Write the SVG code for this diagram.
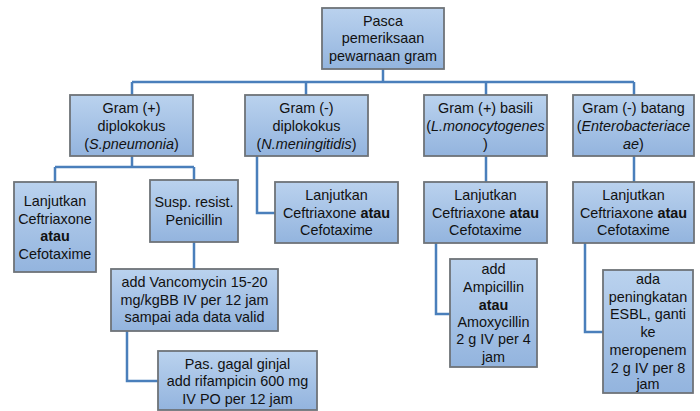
<svg xmlns="http://www.w3.org/2000/svg" width="700" height="411" viewBox="0 0 700 411">
<style>
.b{fill:url(#g);stroke:#6e7378;stroke-width:1.8}
text{font-family:"Liberation Sans",Arial,sans-serif;font-size:14.4px;fill:#111;text-anchor:middle}
.bo{font-weight:bold}
.it{font-style:italic}
.c{fill:none;stroke:#4a7fbb;stroke-width:2.5}
</style>
<defs>
<linearGradient id="g" x1="0" y1="0" x2="0" y2="1">
<stop offset="0" stop-color="#bad2ee"/>
<stop offset="1" stop-color="#93b4de"/>
</linearGradient>
</defs>
<rect width="700" height="411" fill="#fff"/>
<g id="connectors">
<path class="c" d="M383 69V82M132 82H634M132 82V95M306 82V95M486 82V95M634 82V95"/>
<path class="c" d="M132 156V167M55 167H194M55 167V182M194 167V180M194 242V269"/>
<path class="c" d="M127 331V381H158"/>
<path class="c" d="M257 156V213H275"/>
<path class="c" d="M486 156V182M436 243V314H450"/>
<path class="c" d="M634 156V182M585 243V332H603"/>
</g>
<g id="root"><rect class="b" x="322" y="8" width="122" height="61"/>
<text x="383" y="26">Pasca</text><text x="383" y="43">pemeriksaan</text><text x="383" y="61">pewarnaan gram</text></g>
<g id="gpos"><rect class="b" x="70" y="95" width="123" height="61"/>
<text x="131.5" y="113">Gram (+)</text><text x="131.5" y="131">diplokokus</text><text x="131.5" y="149">(<tspan class="it">S.pneumonia</tspan>)</text></g>
<g id="gneg"><rect class="b" x="245" y="95" width="123" height="61"/>
<text x="306.5" y="113">Gram (-)</text><text x="306.5" y="131">diplokokus</text><text x="306.5" y="149">(<tspan class="it">N.meningitidis</tspan>)</text></g>
<g id="gbas"><rect class="b" x="424" y="95" width="123" height="61"/>
<text x="485.5" y="113">Gram (+) basili</text><text x="485.5" y="131">(<tspan class="it">L.monocytogenes</tspan></text><text x="485.5" y="149">)</text></g>
<g id="gbat"><rect class="b" x="573" y="95" width="121" height="61"/>
<text x="633.5" y="113">Gram (-) batang</text><text x="633.5" y="131">(<tspan class="it">Enterobacteriace</tspan></text><text x="633.5" y="149"><tspan class="it">ae</tspan>)</text></g>
<g id="a1"><rect class="b" x="14" y="182" width="82" height="90"/>
<text x="55" y="206">Lanjutkan</text><text x="55" y="224">Ceftriaxone</text><text x="55" y="241" class="bo">atau</text><text x="55" y="259">Cefotaxime</text></g>
<g id="a2"><rect class="b" x="150" y="180" width="88" height="62"/>
<text x="194" y="207">Susp. resist.</text><text x="194" y="225">Penicillin</text></g>
<g id="a3"><rect class="b" x="111" y="269" width="167" height="62"/>
<text x="194.5" y="287">add Vancomycin 15-20</text><text x="194.5" y="305">mg/kgBB IV per 12 jam</text><text x="194.5" y="322">sampai ada data valid</text></g>
<g id="a4"><rect class="b" x="158" y="351" width="159" height="59"/>
<text x="237.5" y="369">Pas. gagal ginjal</text><text x="237.5" y="386">add rifampicin 600 mg</text><text x="237.5" y="404">IV PO per 12 jam</text></g>
<g id="b1"><rect class="b" x="275" y="182" width="123" height="61"/>
<text x="336.5" y="200">Lanjutkan</text><text x="336.5" y="218">Ceftriaxone <tspan class="bo">atau</tspan></text><text x="336.5" y="235">Cefotaxime</text></g>
<g id="c1"><rect class="b" x="424" y="182" width="123" height="61"/>
<text x="485.5" y="200">Lanjutkan</text><text x="485.5" y="218">Ceftriaxone <tspan class="bo">atau</tspan></text><text x="485.5" y="235">Cefotaxime</text></g>
<g id="c2"><rect class="b" x="450" y="259" width="87" height="108"/>
<text x="493.5" y="274">add</text><text x="493.5" y="292">Ampicillin</text><text x="493.5" y="310" class="bo">atau</text><text x="493.5" y="327">Amoxycillin</text><text x="493.5" y="344">2 g IV per 4</text><text x="493.5" y="362">jam</text></g>
<g id="d1"><rect class="b" x="573" y="182" width="121" height="61"/>
<text x="633.5" y="200">Lanjutkan</text><text x="633.5" y="218">Ceftriaxone <tspan class="bo">atau</tspan></text><text x="633.5" y="235">Cefotaxime</text></g>
<g id="d2"><rect class="b" x="603" y="270" width="90" height="123"/>
<text x="648" y="284">ada</text><text x="648" y="302">peningkatan</text><text x="648" y="319">ESBL, ganti</text><text x="648" y="337">ke</text><text x="648" y="355">meropenem</text><text x="648" y="373">2 g IV per 8</text><text x="648" y="389">jam</text></g>
</svg>
